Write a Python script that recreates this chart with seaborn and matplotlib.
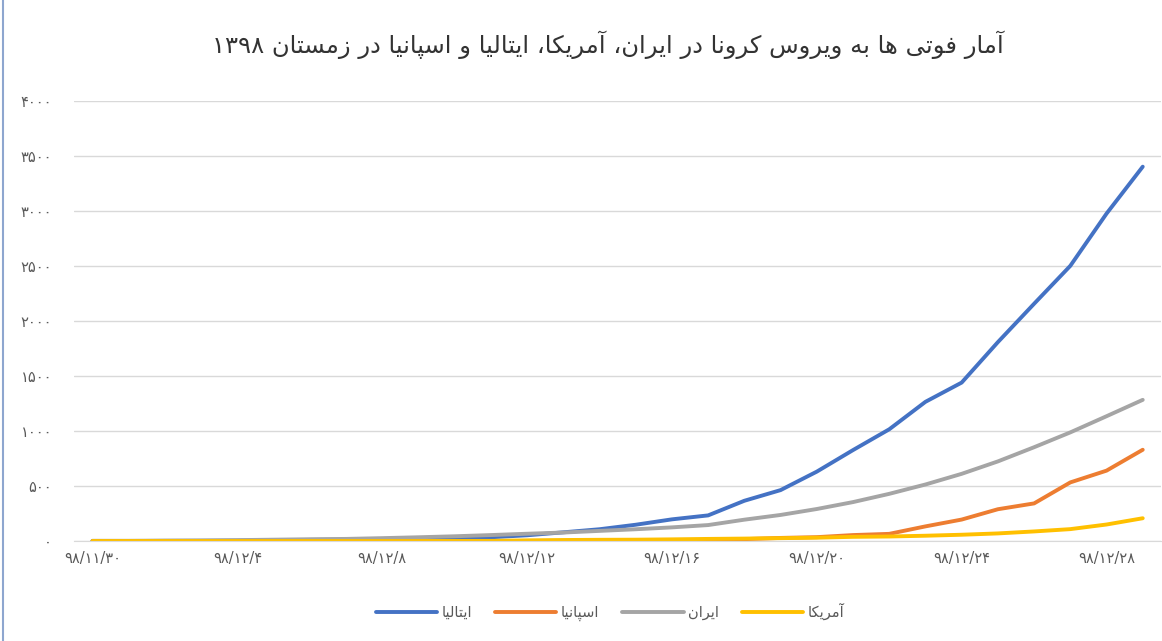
import matplotlib
matplotlib.use("Agg")
import matplotlib.pyplot as plt
from matplotlib.lines import Line2D
import seaborn as sns
import pandas as pd

# --- data (cumulative deaths, 98/11/30 .. 98/12/29) ---
dates = ["98/11/30", "98/12/1", "98/12/2", "98/12/3", "98/12/4", "98/12/5",
         "98/12/6", "98/12/7", "98/12/8", "98/12/9", "98/12/10", "98/12/11",
         "98/12/12", "98/12/13", "98/12/14", "98/12/15", "98/12/16", "98/12/17",
         "98/12/18", "98/12/19", "98/12/20", "98/12/21", "98/12/22", "98/12/23",
         "98/12/24", "98/12/25", "98/12/26", "98/12/27", "98/12/28", "98/12/29"]

italy = [0, 0, 1, 2, 3, 7, 10, 12, 17, 21, 29, 34, 52, 79, 107, 148, 197, 233,
         366, 463, 631, 827, 1016, 1266, 1441, 1809, 2158, 2503, 2978, 3405]
spain = [0, 0, 0, 0, 0, 0, 0, 0, 0, 0, 0, 0, 0, 1, 2, 3, 5, 10,
         17, 28, 35, 54, 65, 133, 195, 289, 342, 533, 640, 830]
iran = [2, 2, 4, 5, 8, 12, 16, 19, 26, 34, 43, 54, 66, 77, 92, 107, 124, 145,
        194, 237, 291, 354, 429, 514, 611, 724, 853, 988, 1135, 1284]
usa = [0, 0, 0, 0, 0, 0, 0, 0, 0, 0, 1, 1, 6, 9, 11, 12, 15, 19,
       22, 26, 30, 38, 41, 48, 57, 69, 87, 108, 150, 207]

series_names = ["ایتالیا", "اسپانیا", "ایران", "آمریکا"]
series_values = [italy, spain, iran, usa]
colors = ["#4472C4", "#ED7D31", "#A5A5A5", "#FFC000"]

title = "آمار فوتی ها به ویروس کرونا در ایران، آمریکا، ایتالیا و اسپانیا در زمستان ۱۳۹۸"
y_ticks = [0, 500, 1000, 1500, 2000, 2500, 3000, 3500, 4000]

# --- small Persian shaping helper (matplotlib has no complex text layout) ---
FA_DIGITS = str.maketrans("0123456789", "۰۱۲۳۴۵۶۷۸۹")

FORMS = {  # isolated, final, initial, medial
    "ا": ("\uFE8D", "\uFE8E"), "آ": ("\uFE81", "\uFE82"),
    "د": ("\uFEA9", "\uFEAA"), "ر": ("\uFEAD", "\uFEAE"),
    "ز": ("\uFEAF", "\uFEB0"), "و": ("\uFEED", "\uFEEE"),
    "ب": ("\uFE8F", "\uFE90", "\uFE91", "\uFE92"),
    "پ": ("\uFB56", "\uFB57", "\uFB58", "\uFB59"),
    "ت": ("\uFE95", "\uFE96", "\uFE97", "\uFE98"),
    "س": ("\uFEB1", "\uFEB2", "\uFEB3", "\uFEB4"),
    "ف": ("\uFED1", "\uFED2", "\uFED3", "\uFED4"),
    "ک": ("\uFB8E", "\uFB8F", "\uFB90", "\uFB91"),
    "ل": ("\uFEDD", "\uFEDE", "\uFEDF", "\uFEE0"),
    "م": ("\uFEE1", "\uFEE2", "\uFEE3", "\uFEE4"),
    "ن": ("\uFEE5", "\uFEE6", "\uFEE7", "\uFEE8"),
    "ه": ("\uFEE9", "\uFEEA", "\uFEEB", "\uFEEC"),
    "ی": ("\uFBFC", "\uFBFD", "\uFBFE", "\uFBFF"),
}


def shape(text):
    out = []
    for i, ch in enumerate(text):
        if ch not in FORMS:
            out.append(ch)
            continue
        prev = text[i - 1] if i > 0 else ""
        nxt = text[i + 1] if i + 1 < len(text) else ""
        join_prev = prev in FORMS and len(FORMS[prev]) == 4
        join_next = len(FORMS[ch]) == 4 and nxt in FORMS
        f = FORMS[ch]
        if join_prev and join_next:
            out.append(f[3])
        elif join_prev:
            out.append(f[1])
        elif join_next:
            out.append(f[2])
        else:
            out.append(f[0])
    s = "".join(out)
    # visual order: reverse, but keep digit runs left-to-right
    runs, cur, cur_digit = [], "", None
    for ch in s:
        d = ch in "۰۱۲۳۴۵۶۷۸۹"
        if cur and d != cur_digit:
            runs.append((cur, cur_digit))
            cur = ""
        cur += ch
        cur_digit = d
    if cur:
        runs.append((cur, cur_digit))
    return "".join(r if d else r[::-1] for r, d in reversed(runs))


# --- long table for seaborn ---
rows = []
for name, vals in zip(series_names, series_values):
    for i, v in enumerate(vals):
        rows.append({"day": i, "country": name, "deaths": v})
df = pd.DataFrame(rows)

sns.set_style("white")
plt.rcParams["font.family"] = ["DejaVu Sans"]

fig = plt.figure(figsize=(11.62, 6.41), dpi=100)
ax = fig.add_axes([0.064, 0.156, 0.935, 0.686])

sns.lineplot(data=df, x="day", y="deaths", hue="country", hue_order=series_names,
             palette=colors, linewidth=2.8, ax=ax, legend=True)

ax.set_xlim(-0.5, len(dates) - 0.5)
ax.set_ylim(0, 4000)
ax.set_yticks(y_ticks)
ax.set_yticklabels([str(t).translate(FA_DIGITS) for t in y_ticks])
tick_idx = list(range(0, len(dates), 4))
ax.set_xticks(tick_idx)
ax.set_xticklabels([dates[i].translate(FA_DIGITS) for i in tick_idx])
ax.tick_params(axis="y", length=0, pad=16, labelsize=10.5, labelcolor="#595959")
ax.tick_params(axis="x", length=0, pad=7, labelsize=10.5, labelcolor="#595959")
ax.set_xlabel("")
ax.set_ylabel("")
ax.yaxis.grid(True, color="#D9D9D9", linewidth=1)
ax.set_axisbelow(True)
for side in ["top", "right", "left"]:
    ax.spines[side].set_visible(False)
ax.spines["bottom"].set_color("#D9D9D9")

handles, labels = ax.get_legend_handles_labels()
ax.get_legend().remove()
fig.legend(handles, [shape(l) for l in labels], loc="center",
           bbox_to_anchor=(0.525, 0.045), ncol=4, frameon=False,
           fontsize=10.5, handlelength=4.2, handletextpad=0.3,
           columnspacing=1.6, labelcolor="#595959")

fig.text(0.523, 0.93, shape(title), ha="center", va="center",
         fontsize=17.5, color="#333333")

# thin blue border on the left edge of the original screenshot
fig.add_artist(Line2D([0.003, 0.003], [0, 1], color="#8EA6CF", linewidth=1.5))

plt.savefig("out.png", dpi=100)
